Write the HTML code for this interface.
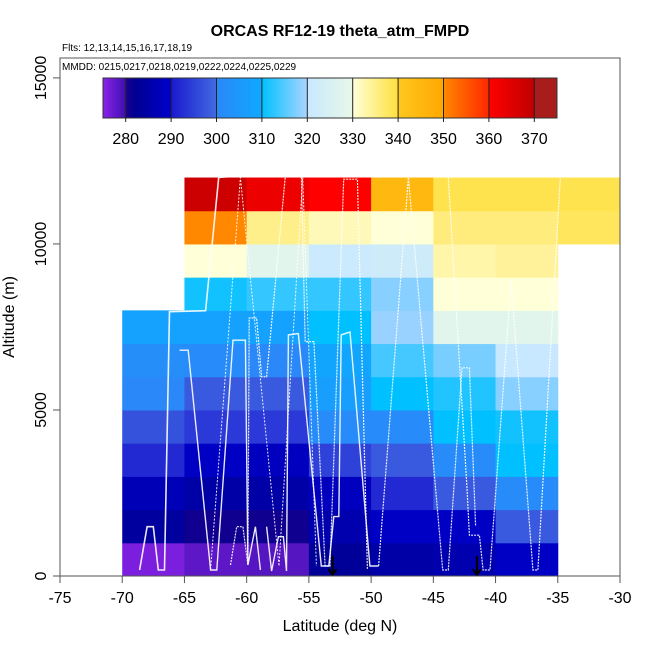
<!DOCTYPE html>
<html><head><meta charset="utf-8"><style>
body{margin:0;background:#fff;}
svg text{font-family:"Liberation Sans",sans-serif;}
</style></head><body>
<svg id="chart" width="650" height="650" viewBox="0 0 650 650" xmlns="http://www.w3.org/2000/svg">
<text x="340" y="36" text-anchor="middle" font-size="16" font-weight="bold">ORCAS RF12-19 theta_atm_FMPD</text>
<text x="62" y="51" font-size="10">Flts: 12,13,14,15,16,17,18,19</text>
<g id="cells"></g>
<g id="tracks"></g>
<g id="axes"></g>
<rect x="61" y="59" width="558" height="86" fill="#fff"/>
<text x="62" y="70" font-size="10">MMDD: 0215,0217,0218,0219,0222,0224,0225,0229</text>
<g id="cbar"></g>
<rect x="60" y="58" width="560" height="518" fill="none" stroke="#555" stroke-width="1"/>
<text x="340" y="631" text-anchor="middle" font-size="16">Latitude (deg N)</text>
<text transform="translate(14,317) rotate(-90)" text-anchor="middle" font-size="16">Altitude (m)</text>
</svg>
<script>
// ---- data ----
const latBins = [-70,-65,-60,-55,-50,-45,-40,-35];
const altBins = [0,1000,2000,3000,4000,5000,6000,7000,8000,9000,10000,11000];
// theta (K) per latitude column, rows from 0 m upward; null = no data
const thetaCol70 = [276,284,287,292,297,300,302,308,null,null,null,null];
const thetaCol65 = [278,281,285,289,294,298,301,308,311,330,350,368];
const thetaCol60 = [278.5,281,285,288,294,298,300,308,313,328,335,363];
const thetaCol55 = [283,286,288,295,301,307,309,310,313,321,332,360];
const thetaCol50 = [285,289,292,298,301,310,314,319,318,322,330,345];
const thetaCol45 = [286,289,298,301,310,312,317,328,330,333,336,339];
const thetaCol40 = [289,298,301,310,311,318,320,328,330,334,336,339];
const thetaCol35 = [null,null,null,null,null,null,null,null,null,null,338,339];
const thetaCols = [thetaCol70,thetaCol65,thetaCol60,thetaCol55,thetaCol50,thetaCol45,thetaCol40,thetaCol35];
const xTicks = [-75,-70,-65,-60,-55,-50,-45,-40,-35,-30];
const yTicks = [0,5000,10000,15000];
const cbTicks = [280,290,300,310,320,330,340,350,360,370];
const trackALat = [-68.6,-68.0,-67.5,-67.1,-66.6,-66.2,-63.3,-62.25,-60.8];
const trackAAlt = [180,1485,1485,180,180,7960,7990,12000,12050];
const trackBLat = [-65.4,-64.7,-62.9,-62.4,-61.1,-60.1,-59.9,-59.3,-58.9];
const trackBAlt = [6800,6800,180,180,7100,7100,330,1485,180];
const trackCLat = [-61.3,-60.8,-60.3,-59.9,-59.8,-59.2,-58.8,-58.4,-56.9];
const trackCAlt = [330,1485,1485,330,7770,7770,6000,6000,12000];
const trackDLat = [-58.4,-58.0,-57.45,-57.05,-56.8,-56.65,-55.85,-54.0,-53.4,-53.0,-52.6,-52.4,-51.7,-50.1,-49.4];
const trackDAlt = [1485,150,1185,1185,150,7260,7300,300,300,1790,1790,7260,7350,300,300];
const trackELat = [-55.6,-55.3,-54.6,-53.7,-53.3,-52.2,-51.1,-50.3];
const trackEAlt = [12000,7060,7060,300,300,11950,11950,200];
const trackFLat = [-49.4,-47.0,-44.25,-43.8,-42.7,-42.1,-41.6];
const trackFAlt = [300,12000,180,180,6270,6270,1500];
const trackGLat = [-43.8,-42.3,-42.1,-41.3,-41.0,-40.45,-38.75,-37.0,-36.6,-34.8];
const trackGAlt = [12000,2690,1230,1230,180,180,8900,180,180,12000];
const trackHLat = [-62.9,-60.5,-57.4,-55.5,-54.4];
const trackHAlt = [200,12000,300,12000,300];
const arrowLats = [-53.1,-41.5];

// ---- scales ----
const X = v => 60 + (v + 75) * 560 / 45;
const Y = a => 576 - a * 518 / 15600;
const CB = t => 103 + (t - 275) * 454 / 100;
const NS = "http://www.w3.org/2000/svg";
function mk(tag, attrs, parent){const e=document.createElementNS(NS,tag);for(const k in attrs)e.setAttribute(k,attrs[k]);parent.appendChild(e);return e;}
const stops = [[275,[138,34,234]],[279.9,[64,16,176]],[280,[32,0,144]],[282,[0,0,144]],[290,[0,0,205]],[290.1,[26,26,208]],[299.9,[65,105,225]],[300,[42,136,248]],[309.9,[16,168,255]],[310,[0,192,255]],[319.9,[168,212,255]],[320,[200,232,255]],[329.9,[232,248,232]],[330,[255,255,216]],[339.9,[255,224,64]],[340,[255,200,32]],[349.9,[255,168,0]],[350,[255,136,0]],[359.9,[255,40,0]],[360,[255,0,0]],[369.9,[192,0,0]],[370,[168,28,28]],[375,[168,28,28]]];
function col(t){for(let i=1;i<stops.length;i++){if(t<=stops[i][0]){const a=stops[i-1],b=stops[i];const f=(t-a[0])/(b[0]-a[0]);const c=a[1].map((v,j)=>Math.round(v+(b[1][j]-v)*f));return `rgb(${c})`;}}return 'rgb(168,28,28)';}

// heatmap
const cells=document.getElementById('cells');
thetaCols.forEach((c,i)=>{c.forEach((t,j)=>{if(t===null)return;
  const r=mk('rect',{x:X(latBins[i]),y:Y(altBins[j]+1000),width:X(latBins[i]+5)-X(latBins[i])+0.5,height:Y(altBins[j])-Y(altBins[j]+1000)+0.5,fill:col(t)},cells);
  
  
});});

// tracks
const tr=document.getElementById('tracks');
const tracks=[[trackALat,trackAAlt,1.6,null],[trackBLat,trackBAlt,1.4,null],[trackCLat,trackCAlt,1.2,'2 1'],[trackDLat,trackDAlt,1.4,null],[trackELat,trackEAlt,1.2,'2 1'],[trackFLat,trackFAlt,1.2,'2 1'],[trackGLat,trackGAlt,1.2,'2 1'],[trackHLat,trackHAlt,1,'2 1.5']];
tracks.forEach(([la,al,w,d])=>{const p=la.map((v,i)=>X(v).toFixed(1)+','+Y(al[i]).toFixed(1)).join(' ');
  const a={points:p,fill:'none',stroke:'#fff','stroke-width':w,'stroke-opacity':0.9};if(d)a['stroke-dasharray']=d;
  const e=mk('polyline',a,tr);
  
  
});
arrowLats.forEach(l=>{const x=X(l);
  const e=mk('path',{d:`M${x},556 L${x},575 M${x-4},569 L${x},575 L${x+4},569`,stroke:'#000','stroke-width':2,fill:'none'},tr);
  
  
});

// axes
const ax=document.getElementById('axes');
mk('line',{x1:60,y1:576,x2:620,y2:576,stroke:'#000'},ax);
xTicks.forEach(v=>{mk('line',{x1:X(v),y1:576,x2:X(v),y2:583,stroke:'#555'},ax);
  const t=mk('text',{x:X(v),y:603,'text-anchor':'middle','font-size':16},ax);t.textContent=v;
  
  
});
yTicks.forEach(v=>{mk('line',{x1:53,y1:Y(v),x2:60,y2:Y(v),stroke:'#555'},ax);
  const t=mk('text',{transform:`translate(46,${Y(v)}) rotate(-90)`,'text-anchor':'middle','font-size':16},ax);t.textContent=v;
  
  
});

// colorbar
const cb=document.getElementById('cbar');
for(let t=275;t<375;t+=0.5){mk('rect',{x:CB(t),y:78,width:454/200+0.4,height:40,fill:col(t+0.25)},cb);}
mk('rect',{x:103,y:78,width:454,height:40,fill:'none',stroke:'#333','stroke-width':1},cb);
cbTicks.forEach(v=>{mk('line',{x1:CB(v),y1:78,x2:CB(v),y2:122,stroke:'#222'},cb);
  const t=mk('text',{x:CB(v),y:144,'text-anchor':'middle','font-size':16},cb);t.textContent=v;
  
  
});
</script>
</body></html>
